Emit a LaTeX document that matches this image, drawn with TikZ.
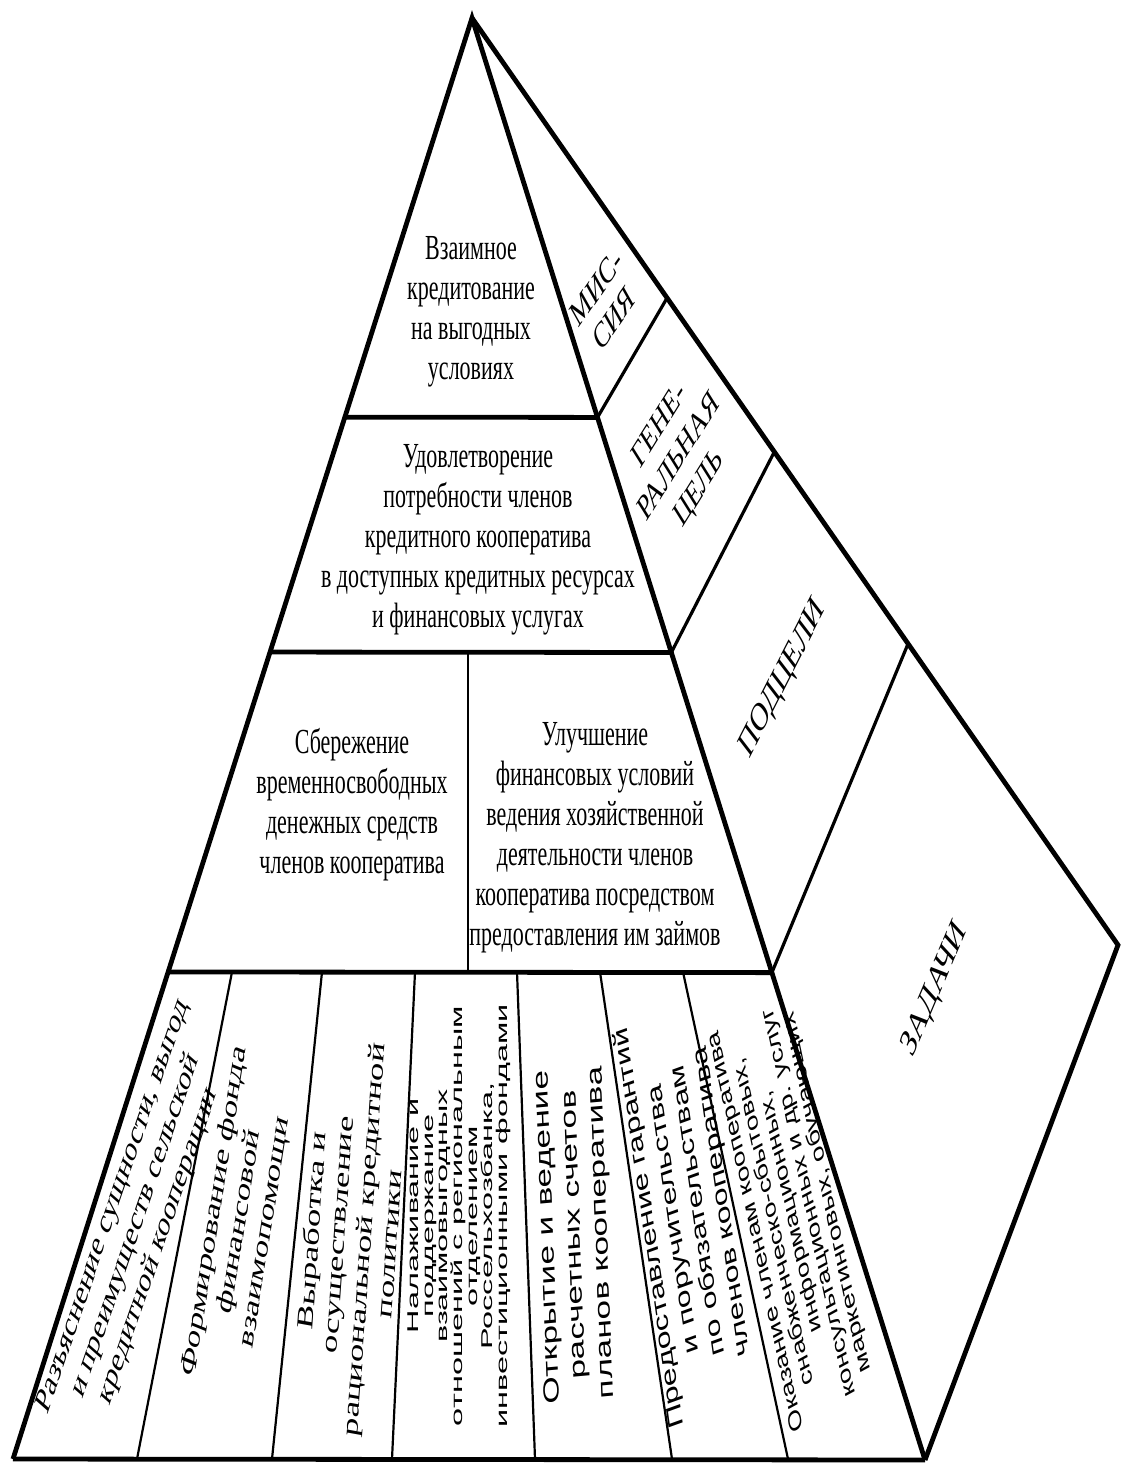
\documentclass[tikz,border=0pt]{standalone}
\usepackage{fontspec}
\setmainfont{Liberation Serif}
\setsansfont{Liberation Sans}
\usetikzlibrary{calc}
\tikzset{
  tall/.style={yscale=1.6, inner sep=0pt, align=center},
  txt/.style={tall, font=\fontsize{11}{12.5}\selectfont},
  side/.style={tall, font=\fontsize{11.5}{13}\selectfont},
  col/.style={tall, font=\fontsize{11.5}{13}\selectfont},
  scol/.style={tall, font=\sffamily\fontsize{10.5}{12.5}\selectfont},
}
\begin{document}
\begin{tikzpicture}[x=0.5pt, y=-0.5pt]
      \useasboundingbox (0,0) rectangle (1120,1466);
      \draw
        (472,18) coordinate (top)
        (13,1459) coordinate (bl)
        (925,1460) coordinate (br)
        (1118,945) coordinate (rv)
        ($(top)!0.277!(bl)$) coordinate (a1)
        ($(top)!0.277!(br)$) coordinate (b1)
        ($(top)!0.440!(bl)$) coordinate (a2)
        ($(top)!0.440!(br)$) coordinate (b2)
        ($(top)!0.662!(bl)$) coordinate (a3)
        ($(top)!0.662!(br)$) coordinate (b3)
        ($(top)!0.302!(rv)$) coordinate (o1)
        ($(top)!0.468!(rv)$) coordinate (o2)
        ($(top)!0.675!(rv)$) coordinate (o3)
        (468,653) coordinate (m2)
        (468,972) coordinate (m3)
        (232,972) coordinate (c1) (137,1459) coordinate (d1)
        (322,972) coordinate (c2) (272,1459) coordinate (d2)
        (415,972) coordinate (c3) (392,1459) coordinate (d3)
        (517,972) coordinate (c4) (535,1459) coordinate (d4)
        (600,972) coordinate (c5) (672,1459) coordinate (d5)
        (683,972) coordinate (c6) (788,1459) coordinate (d6);
      \begin{scope}[line width=2.4pt]
        \draw (bl) -- (top) -- (br);
        \draw (top) -- (rv) -- (br);
        \draw (bl) -- (br);
        \draw (a1) -- (b1);
        \draw (a2) -- (b2);
        \draw (a3) -- (b3);
      \end{scope}
      \begin{scope}[line width=1.6pt]
        \draw (o1) -- (b1);
        \draw (o2) -- (b2);
        \draw (o3) -- (b3);
      \end{scope}
      \begin{scope}[line width=1.1pt]
        \draw (m2) -- (m3);
        \draw (c1) -- (d1);
        \draw (c2) -- (d2);
        \draw (c3) -- (d3);
        \draw (c4) -- (d4);
        \draw (c5) -- (d5);
        \draw (c6) -- (d6);
      \end{scope}
      \node[txt] (mutual) at (471,312) {Взаимное\\кредитование\\на выгодных\\условиях};
      \node[txt] (needs) at (478,540) {Удовлетворение\\потребности членов\\кредитного кооператива\\в доступных кредитных ресурсах\\и финансовых услугах};
      \node[txt] (saving) at (352,805) {Сбережение\\временносвободных\\денежных средств\\членов кооператива};
      \node[txt] (improve) at (595,838) {Улучшение\\финансовых условий\\ведения хозяйственной\\деятельности членов\\кооператива посредством\\предоставления им займов};
      \node[side, rotate=41.8] (mission) at (605,303) {МИС-\\СИЯ};
      \node[side, rotate=45, font=\fontsize{11.5}{14}\selectfont] (general) at (680,458) {ГЕНЕ-\\РАЛЬНАЯ\\ЦЕЛЬ};
      \node[side, rotate=50.8, font=\fontsize{12.5}{14}\selectfont] (subgoals) at (783,679) {ПОДЦЕЛИ};
      \node[side, rotate=55.8, font=\fontsize{12.5}{14}\selectfont] (tasks) at (935,990) {ЗАДАЧИ};
      \node[col, rotate=61.2] (explain) at (136,1226) {Разъяснение сущности, выгод\\и преимуществ сельской\\кредитной кооперации};
      \node[col, rotate=75.8] (fund) at (240,1222) {Формирование фонда\\финансовой\\взаимопомощи};
      \node[col, rotate=83.6] (policy) at (350,1237) {Выработка и\\осуществление\\рациональной кредитной\\политики};
      \node[scol, rotate=90, xscale=1.3, font=\sffamily\fontsize{7.8}{7.4}\selectfont] (relations) at (459,1216) {Налаживание и\\поддержание\\взаимовыгодных\\отношений с региональным\\отделением\\Россельхозбанка,\\инвестиционными фондами};
      \node[scol, rotate=93.2, font=\sffamily\fontsize{11}{13.5}\selectfont] (accounts) at (575,1235) {Открытие и ведение\\расчетных счетов\\планов кооператива};
      \node[scol, rotate=102.7] (guarantee) at (686,1215) {Предоставление гарантий\\и поручительства\\по обязательствам\\членов кооператива};
      \node[scol, rotate=108.8, font=\sffamily\fontsize{9.2}{9.4}\selectfont] (services) at (792,1212) {Оказание членам кооператива\\снабженческо-сбытовых,\\информационных,\\консультационных и др. услуг\\маркетинговых, обучающих};
    \end{tikzpicture}
\end{document}
